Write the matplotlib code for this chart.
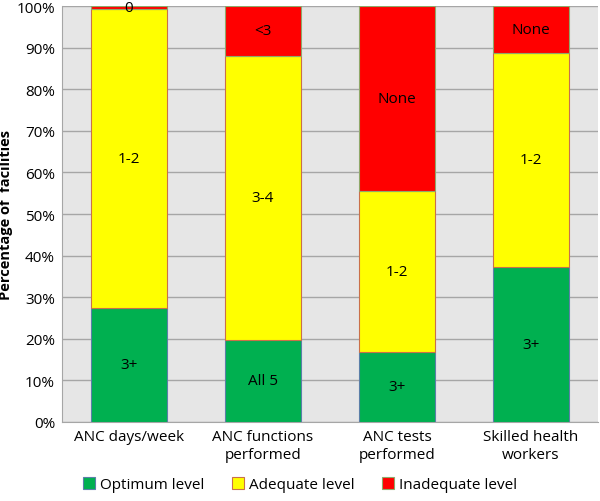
import matplotlib.pyplot as plt
import numpy as np

# Data (percent of facilities)
categories = ['ANC days/week', 'ANC functions\nperformed', 'ANC tests\nperformed', 'Skilled health\nworkers']
optimum = [27.4, 19.8, 16.9, 37.2]
adequate = [71.8, 68.2, 38.7, 51.6]
inadequate = [0.8, 12.0, 44.4, 11.2]

optimum_labels = ['3+', 'All 5', '3+', '3+']
adequate_labels = ['1-2', '3-4', '1-2', '1-2']
inadequate_labels = ['0', '<3', 'None', 'None']

plt.rcParams['font.family'] = ['Open Sans', 'DejaVu Sans']

fig = plt.figure(figsize=(6, 5.02), dpi=100)
ax = fig.add_axes([0.1033, 0.1574, 0.8934, 0.8286])
ax.set_facecolor('#E6E6E6')

x = np.arange(len(categories))
w = 0.57
opt = np.array(optimum)
ade = np.array(adequate)
ina = np.array(inadequate)

b1 = ax.bar(x, opt, w, color='#00B050', edgecolor='#5B7FA8', linewidth=0.8,
            label='Optimum level', zorder=3)
b2 = ax.bar(x, ade, w, bottom=opt, color='#FFFF00', edgecolor='#C9704A', linewidth=0.8,
            label='Adequate level', zorder=3)
b3 = ax.bar(x, ina, w, bottom=opt + ade, color='#FF0000', edgecolor='#8FA86A', linewidth=0.8,
            label='Inadequate level', zorder=3)

for bars, labels in [(b1, optimum_labels), (b2, adequate_labels), (b3, inadequate_labels)]:
    ax.bar_label(bars, labels=labels, label_type='center', fontsize=11, color='black')

ax.set_xlim(-0.5, 3.5)
ax.set_ylim(0, 100)
ax.set_yticks(np.arange(0, 101, 10))
ax.set_yticklabels([f'{v}%' for v in range(0, 101, 10)], fontsize=11)
ax.set_xticks(x)
ax.set_xticklabels(categories, fontsize=11, linespacing=1.25)
ax.tick_params(axis='both', length=0, pad=5)
ax.yaxis.grid(True, color='#A6A6A6', linewidth=1, zorder=0)

for side in ['top', 'right']:
    ax.spines[side].set_visible(False)
ax.spines['left'].set_color('#A6A6A6')
ax.spines['bottom'].set_color('#A6A6A6')

ax.set_ylabel('Percentage of  facilities', fontsize=10.5, fontweight='bold')
ax.yaxis.set_label_coords(-0.092, 0.5)

fig.legend(handles=[b1, b2, b3], loc='lower center', bbox_to_anchor=(0.5, -0.01),
           ncol=3, frameon=False, fontsize=11, handlelength=0.8, handleheight=0.8,
           handletextpad=0.3, columnspacing=1.8)

fig.savefig('out.png', dpi=100)
